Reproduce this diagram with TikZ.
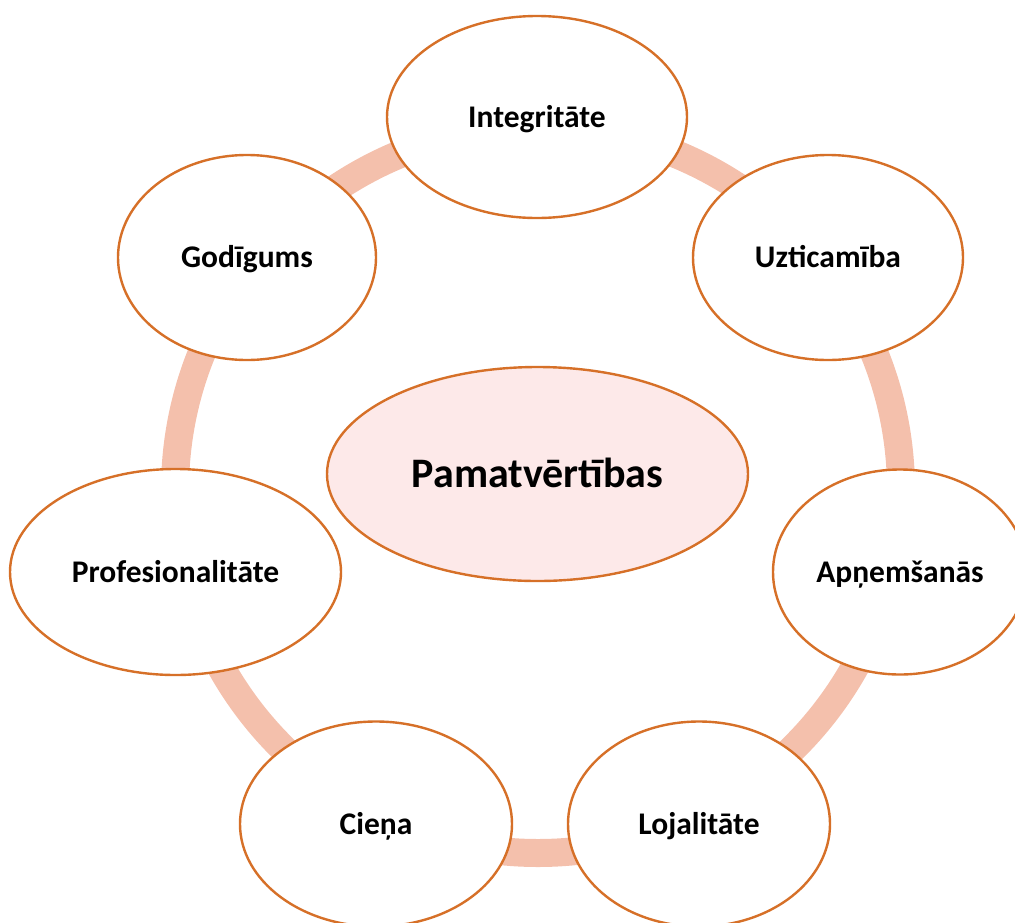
\documentclass[tikz,border=0pt]{standalone}
\usepackage{fontspec}
\setmainfont{Carlito}
\usetikzlibrary{shapes.geometric}
\definecolor{ringc}{RGB}{244,192,172}
\definecolor{edgec}{RGB}{214,112,40}
\definecolor{pinkc}{RGB}{253,233,233}
\tikzset{
  val/.style={ellipse, draw=edgec, line width=2.4pt, fill=white, inner sep=0pt,
    font=\fontsize{31.5}{38}\selectfont\bfseries, text height=20.3pt, text depth=0pt},
  core/.style={val, fill=pinkc, font=\fontsize{42}{50}\selectfont\bfseries, text height=27pt},
  ring/.style={draw=ringc, line width=28pt}
}
\begin{document}
\begin{tikzpicture}[x=1pt,y=-1pt]
\useasboundingbox (0,0) rectangle (1015,922);
\coordinate (rc) at (538,490);
\draw[ring] (rc) circle [radius=363pt];
\node[core, minimum width=421pt, minimum height=214pt] (pam) at (537.5,474) {Pamatvērtības};
\node[val, minimum width=300pt, minimum height=202pt] (int) at (537,117) {Integritāte};
\node[val, minimum width=270pt, minimum height=205pt] (uzt) at (828,257.5) {Uzticamība};
\node[val, minimum width=254pt, minimum height=205pt] (apn) at (900,572) {Apņemšanās};
\node[val, minimum width=262pt, minimum height=205pt] (loj) at (699,824) {Lojalitāte};
\node[val, minimum width=272pt, minimum height=205pt] (cie) at (376,824) {Cieņa};
\node[val, minimum width=331pt, minimum height=206pt] (pro) at (175.5,572) {Profesionalitāte};
\node[val, minimum width=258pt, minimum height=205pt] (god) at (247,257.5) {Godīgums};
\end{tikzpicture}
\end{document}
